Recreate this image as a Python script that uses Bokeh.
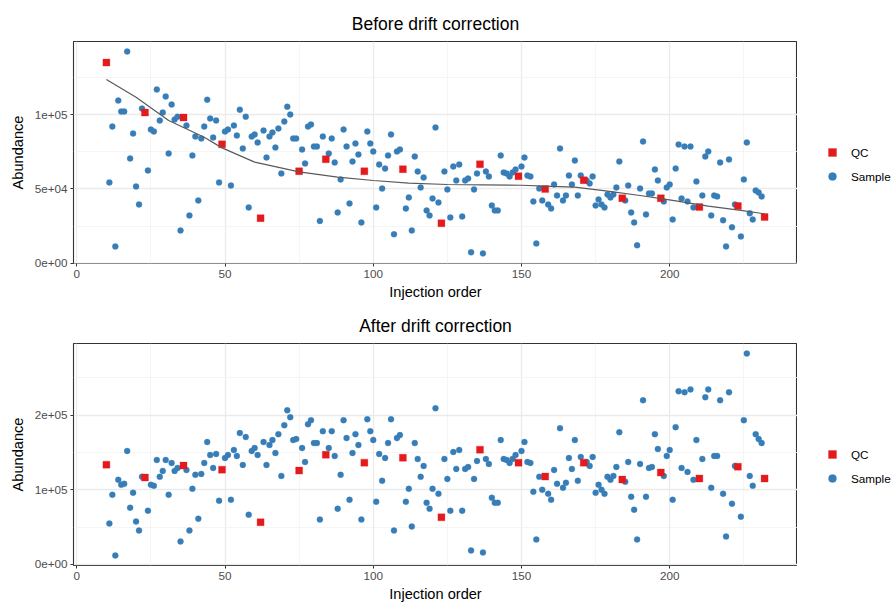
from bokeh.plotting import figure
from bokeh.models import FixedTicker, Range1d, Legend, LegendItem
from bokeh.layouts import column, row
from bokeh.embed import file_html
from bokeh.resources import INLINE

# ---------------- data ----------------
qc_order = [10, 23, 36, 49, 62, 75, 84, 97, 110, 123, 136, 149, 158, 171, 184, 197, 210, 223, 232]
qc_before = [134900, 101300, 98000, 80000, 30400, 61900, 70000, 61900, 63300, 27000,
             66600, 58600, 49900, 55900, 43800, 43800, 37800, 38500, 31100]
qc_after = [133700, 116400, 132400, 127000, 56400, 125700, 147000, 136400, 143000, 63000,
            153700, 136400, 117700, 136400, 113700, 123000, 115000, 131000, 115000]

sample_order = [11, 12, 13, 14, 15, 16, 17, 18, 19, 20, 21, 22, 24, 25, 26, 27, 28, 29, 30, 31,
                32, 33, 34, 35, 37, 38, 39, 40, 41, 42, 43, 44, 45, 46, 47, 48, 50, 51, 52, 53,
                54, 55, 56, 57, 58, 59, 60, 61, 63, 64, 65, 66, 67, 68, 69, 70, 71, 72, 73, 74,
                76, 77, 78, 79, 80, 81, 82, 83, 85, 86, 87, 88, 89, 90, 91, 92, 93, 94, 95, 96,
                98, 99, 100, 101, 102, 103, 104, 105, 106, 107, 108, 109, 111, 112, 113, 114, 115, 116, 117, 118,
                119, 120, 121, 122, 124, 125, 126, 127, 128, 129, 130, 131, 132, 133, 134, 135, 137, 138, 139, 140,
                141, 142, 143, 144, 145, 146, 147, 148, 150, 151, 152, 153, 154, 155, 156, 157, 159, 160, 161, 162,
                163, 164, 165, 166, 167, 168, 169, 170, 172, 173, 174, 175, 176, 177, 178, 179, 180, 181, 182, 183,
                185, 186, 187, 188, 189, 190, 191, 192, 193, 194, 195, 196, 198, 199, 200, 201, 202, 203, 204, 205,
                206, 207, 208, 209, 211, 212, 213, 214, 215, 216, 217, 218, 219, 220, 221, 222, 224, 225, 226, 227,
                228, 229, 230, 231]
sample_before = [54400, 91900, 11400, 109400, 102000, 102000, 142300, 70500, 87200, 51700, 39600, 104000, 62400, 89900, 88600, 116800, 96000, 101300, 112100, 73800,
                 106700, 96600, 98600, 22100, 92600, 32200, 72500, 85200, 42300, 83900, 91900, 110000, 97300, 84500, 96000, 54400, 88600, 89900, 52300, 92600,
                 85900, 103300, 77200, 98600, 37600, 85200, 86600, 81200, 89200, 71100, 85200, 87900, 77800, 90600, 60400, 95300, 105300, 100000, 83900, 83900,
                 76500, 67100, 91900, 93300, 78500, 78500, 28500, 85200, 73800, 83900, 67800, 34200, 56400, 89900, 78500, 40300, 68400, 80500, 73100, 27500,
                 88600, 80500, 75200, 37600, 66400, 50300, 63700, 72500, 86600, 19500, 75200, 76500, 36900, 44300, 22100, 71800, 61700, 51000, 57700, 35600,
                 32200, 43600, 91300, 40900, 61700, 49700, 30900, 65100, 55700, 66400, 31500, 55700, 57000, 7400, 49700, 60400, 6700, 61700, 58400, 38900,
                 35600, 35600, 72500, 61100, 60400, 58400, 61100, 63100, 65100, 71100, 59000, 58400, 41600, 13400, 50300, 42300, 39600, 36900, 53000, 45600,
                 77200, 42300, 45600, 59000, 53000, 69100, 45600, 59000, 55700, 53700, 58400, 38900, 42900, 39600, 37600, 46300, 44300, 46300, 51000, 68400,
                 42300, 52300, 34200, 27500, 12100, 50300, 81900, 32900, 47000, 47000, 63100, 55700, 41600, 51000, 53000, 29500, 63700, 79800, 43600, 78500,
                 41600, 78500, 37600, 55000, 45600, 71800, 75200, 32200, 45600, 45000, 67800, 28900, 11400, 69800, 24200, 39600, 18100, 56400, 81200, 33600,
                 29500, 49000, 47600, 45000]
sample_after = [54700, 93300, 12000, 113300, 106600, 108000, 152000, 76000, 96000, 57300, 45300, 117300, 72000, 106600, 105300, 140000, 117300, 125300, 140000, 93300,
                136000, 125300, 129300, 30700, 126600, 45300, 101300, 120000, 61300, 121300, 136000, 164000, 146600, 129300, 148000, 85300, 142600, 146600, 86600, 153300,
                145300, 176000, 133300, 170600, 66600, 152000, 156000, 146600, 164000, 133300, 160000, 166600, 149300, 174600, 118600, 186600, 206600, 197300, 166600, 168000,
                156000, 137300, 188000, 193300, 162600, 162600, 60000, 178600, 156000, 178600, 145300, 74600, 120000, 193300, 169300, 86600, 149300, 174600, 160000, 60000,
                194600, 178600, 166600, 84000, 148000, 112000, 142600, 162600, 194600, 45300, 169300, 173300, 84000, 101300, 50700, 162600, 141300, 117300, 132000, 82600,
                74600, 101300, 209300, 94600, 141300, 114600, 72000, 150600, 128000, 153300, 72000, 128000, 130600, 18700, 114600, 138600, 16000, 141300, 134600, 89300,
                82600, 82600, 166600, 141300, 140000, 136000, 141300, 146600, 152000, 164000, 137300, 136000, 97300, 33300, 117300, 100000, 94600, 86600, 126600, 108000,
                182600, 102600, 109300, 142600, 128000, 166600, 112000, 144000, 137300, 132000, 144000, 96000, 106600, 100000, 94600, 117300, 113300, 118600, 130600, 177300,
                110600, 137300, 90600, 73300, 33300, 134600, 220000, 90600, 129300, 130600, 174600, 154600, 118600, 145300, 153300, 86600, 184000, 232000, 129300, 230600,
                124000, 234600, 113300, 166600, 141300, 224000, 234600, 102600, 145300, 145300, 220000, 94600, 37300, 230600, 81300, 132000, 64000, 193300, 282600, 118600,
                105300, 174600, 168000, 162600]

# smooth (loess) curve through QC
fit_order = [10, 20, 31, 43, 49, 60, 75, 88, 100, 112, 125, 137, 150, 160, 168, 179, 190, 201, 213, 224, 232]
fit_before = [123500, 111600, 96000, 84700, 77600, 68000, 61500, 57900, 55700, 53900, 53000,
              52800, 52500, 51700, 51200, 48500, 45600, 42300, 38500, 35600, 33300]

x_ticks = [0, 50, 100, 150, 200]
x_minor = [25, 75, 125, 175, 225]
top_ticks = [0, 50000, 100000]
top_labels = ["0e+00", "5e+04", "1e+05"]
top_minor = [25000, 75000, 125000]
bot_ticks = [0, 100000, 200000]
bot_labels = ["0e+00", "1e+05", "2e+05"]
bot_minor = [50000, 150000, 250000]
legend_labels = ["QC", "Sample"]

QC_COLOR = "#E41A1C"
SAMPLE_COLOR = "#377EB8"
FONT = "Liberation Sans"


def make_panel(title, s_vals, q_vals, yt, yl, ym, fit_x=None, fit_y=None):
    xs = sample_order + qc_order
    ys = s_vals + q_vals
    dx = (max(xs) - min(xs)) * 0.05
    dy = (max(ys) - min(ys)) * 0.05
    p = figure(width=797, height=302, output_backend="svg", toolbar_location=None,
               x_range=Range1d(min(xs) - dx, max(xs) + dx),
               y_range=Range1d(min(ys) - dy, max(ys) + dy),
               min_border_left=73, min_border_right=0, min_border_top=41, min_border_bottom=39)
    p.background_fill_color = "white"
    p.border_fill_color = "white"
    p.outline_line_color = "#333333"
    p.outline_line_width = 1.1

    p.title.text = title
    p.title.align = "center"
    p.title.text_font = FONT
    p.title.text_font_size = "17.5px"
    p.title.text_font_style = "normal"
    p.title.text_color = "black"
    p.title.standoff = 15

    p.xaxis.ticker = FixedTicker(ticks=x_ticks, minor_ticks=x_minor)
    p.yaxis.ticker = FixedTicker(ticks=yt, minor_ticks=ym)
    p.yaxis.major_label_overrides = {t: l for t, l in zip(yt, yl)}
    for ax in (p.xaxis[0], p.yaxis[0]):
        ax.axis_line_color = None
        ax.major_tick_line_color = "#333333"
        ax.major_tick_in = 0
        ax.major_tick_out = 3
        ax.minor_tick_line_color = None
        ax.major_label_text_font = FONT
        ax.major_label_text_font_size = "11.7px"
        ax.major_label_text_color = "#4D4D4D"
        ax.major_label_standoff = 2
        ax.axis_label_text_font = FONT
        ax.axis_label_text_font_size = "14.6px"
        ax.axis_label_text_font_style = "normal"
        ax.axis_label_text_color = "black"
    p.xaxis.axis_label = "Injection order"
    p.yaxis.axis_label = "Abundance"
    p.xaxis.axis_label_standoff = 3
    p.yaxis.axis_label_standoff = 6

    for g in (p.xgrid[0], p.ygrid[0]):
        g.grid_line_color = "#EBEBEB"
        g.grid_line_width = 1.3
        g.minor_grid_line_color = "#F2F2F2"
        g.minor_grid_line_width = 0.8

    p.scatter(sample_order, s_vals, marker="circle", size=6,
              fill_color=SAMPLE_COLOR, line_color=SAMPLE_COLOR, line_width=0.3)
    p.scatter(qc_order, q_vals, marker="square", size=7,
              fill_color=QC_COLOR, line_color=QC_COLOR, line_width=0.3)
    if fit_x is not None:
        p.line(fit_x, fit_y, line_color="#5A5A5A", line_width=1.2)

    # legend lives in a narrow companion figure to the right of the panel;
    # its key glyphs reuse the first data value of each series (outside that
    # figure's visible 0..1 range, so only the legend keys show)
    lg = figure(width=99, height=302, output_backend="svg", toolbar_location=None,
                x_range=Range1d(0, 1), y_range=Range1d(0, 1),
                min_border=0, min_border_left=0, min_border_right=0,
                min_border_top=0, min_border_bottom=0)
    lg.axis.visible = False
    lg.grid.visible = False
    lg.outline_line_color = None
    lg.background_fill_color = "white"
    lg.border_fill_color = "white"
    rq = lg.scatter(qc_order[:1], q_vals[:1], marker="square", size=7,
                    fill_color=QC_COLOR, line_color=QC_COLOR, line_width=0.3)
    rs = lg.scatter(sample_order[:1], s_vals[:1], marker="circle", size=6,
                    fill_color=SAMPLE_COLOR, line_color=SAMPLE_COLOR, line_width=0.3)
    legend = Legend(items=[LegendItem(label=legend_labels[0], renderers=[rq]),
                           LegendItem(label=legend_labels[1], renderers=[rs])],
                    location=(25, 77), orientation="vertical")
    legend.border_line_color = None
    legend.background_fill_alpha = 0
    legend.padding = 0
    legend.margin = 0
    legend.spacing = 4
    legend.glyph_width = 20
    legend.glyph_height = 20
    legend.label_height = 20
    legend.label_standoff = 9
    legend.label_text_font = FONT
    legend.label_text_font_size = "11.7px"
    legend.label_text_color = "black"
    lg.add_layout(legend, "center")
    return row(p, lg, spacing=0)


p1 = make_panel("Before drift correction", sample_before, qc_before,
                top_ticks, top_labels, top_minor, fit_order, fit_before)
p2 = make_panel("After drift correction", sample_after, qc_after,
                bot_ticks, bot_labels, bot_minor)

layout = column(p1, p2, spacing=0)
open("out.html", "w").write(file_html(layout, INLINE))
